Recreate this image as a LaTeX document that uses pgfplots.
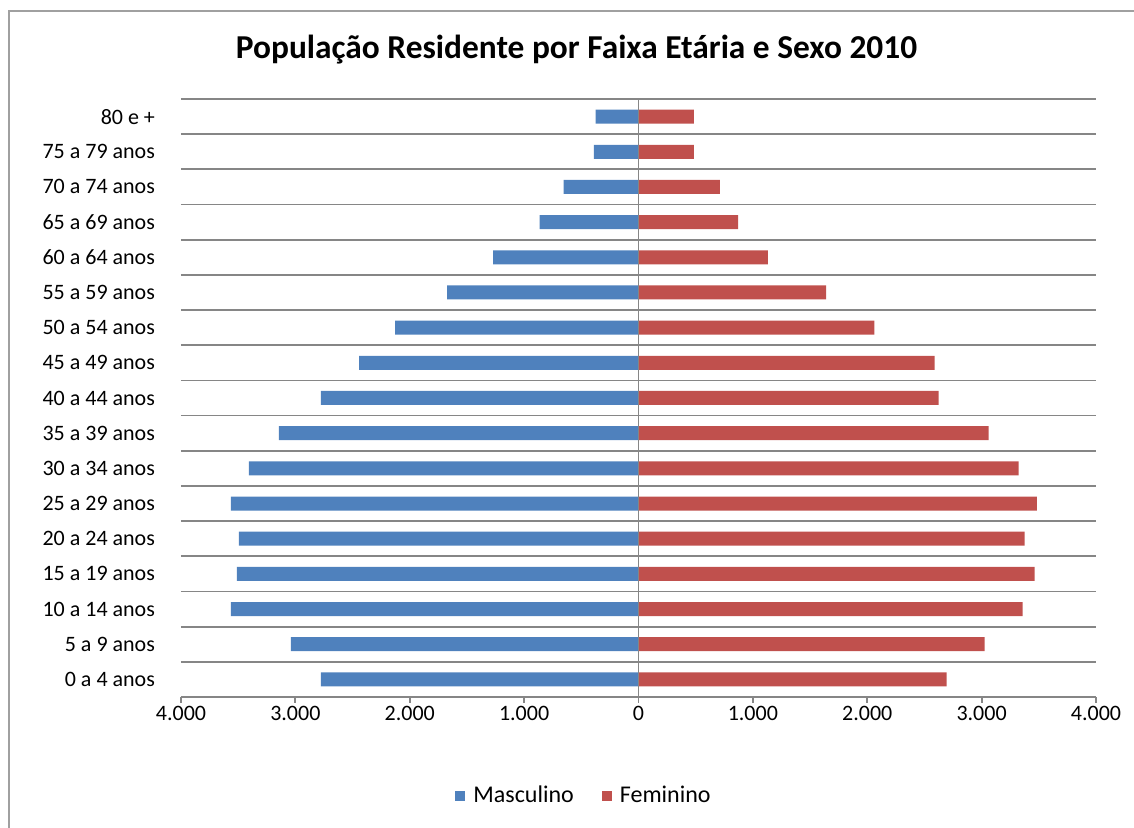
\documentclass[border=0pt]{standalone}
\usepackage{pgfplots}
\pgfplotsset{compat=1.18}
\usepackage{fontspec}
\setmainfont{Carlito}
\definecolor{masc}{RGB}{79,129,189}
\definecolor{fem}{RGB}{192,80,77}
\definecolor{gridc}{RGB}{134,134,134}
\definecolor{framec}{RGB}{160,160,160}
\begin{document}
\begin{tikzpicture}
\useasboundingbox (-90.5pt,-65.5pt) rectangle (476.5pt,348.5pt);
\draw[framec, line width=1.2pt] (-86pt,-80pt) -- (-86pt,343pt) -- (490pt,343pt);
\begin{axis}[
  at={(0pt,0pt)}, anchor=south west,
  width=457.5pt, height=299pt, scale only axis,
  xmin=-4000, xmax=4000,
  ymin=-0.5, ymax=16.5,
  xtick={-4000,-3000,-2000,-1000,0,1000,2000,3000,4000},
  xticklabels={4.000,3.000,2.000,1.000,0,1.000,2.000,3.000,4.000},
  ytick={0,...,16},
  yticklabels={0 a 4 anos,5 a 9 anos,10 a 14 anos,15 a 19 anos,20 a 24 anos,25 a 29 anos,30 a 34 anos,35 a 39 anos,40 a 44 anos,45 a 49 anos,50 a 54 anos,55 a 59 anos,60 a 64 anos,65 a 69 anos,70 a 74 anos,75 a 79 anos,80 e +},
  minor ytick={0.5,1.5,...,16.5},
  yminorgrids=true,
  minor grid style={gridc, line width=0.9pt},
  axis x line*=bottom,
  separate axis lines,
  x axis line style={gridc, line width=0.9pt, -},
  y axis line style={draw=none},
  xtick style={gridc, line width=0.9pt},
  tick align=outside,
  major tick length=3pt,
  minor tick length=0pt,
  ytick style={draw=none},
  tick label style={font=\fontsize{11}{13}\selectfont, text=black},
  yticklabel style={anchor=east, xshift=-6.5pt},
  xticklabel style={yshift=2pt},
  legend style={at={(202pt,-49.5pt)}, anchor=center, draw=none, legend columns=2,
     font=\fontsize{12}{14}\selectfont, column sep=2pt,
     /tikz/every even column/.append style={column sep=12pt}},
  legend image code/.code={\fill[#1] (0pt,-2.5pt) rectangle (5pt,2.5pt);},
  clip=false,
]
\addplot[xbar, bar width=7pt, bar shift=0pt, fill=masc, draw=none] coordinates {
(-2776,0) (-3039,1) (-3564,2) (-3511,3) (-3494,4) (-3564,5) (-3406,6) (-3144,7)
(-2776,8) (-2443,9) (-2128,10) (-1673,11) (-1270,12) (-864,13) (-654,14) (-391,15) (-374,16)};
\addlegendentry{Masculino}
\addplot[xbar, bar width=7pt, bar shift=0pt, fill=fem, draw=none] coordinates {
(2694,0) (3026,1) (3359,2) (3464,3) (3377,4) (3482,5) (3324,6) (3061,7)
(2624,8) (2589,9) (2063,10) (1640,11) (1132,12) (870,13) (712,14) (484,15) (484,16)};
\addlegendentry{Feminino}
\addplot[gridc, line width=0.9pt, forget plot] coordinates {(0,-0.5) (0,16.5)};
\end{axis}
\node[font=\bfseries\fontsize{16.7}{20}\selectfont] at (197.75pt,323.5pt) {População Residente por Faixa Etária e Sexo 2010};
\end{tikzpicture}
\end{document}
